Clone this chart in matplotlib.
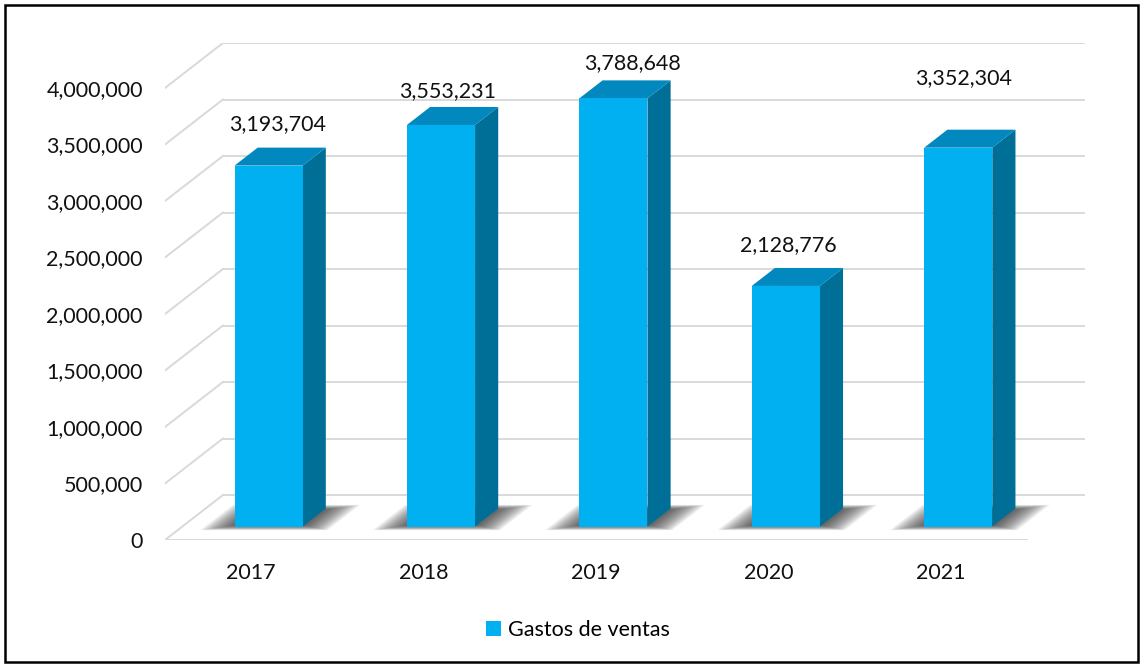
import matplotlib.pyplot as plt
from matplotlib.patches import Polygon, Rectangle, Patch
from matplotlib.ticker import FuncFormatter

# datos
years = ['2017', '2018', '2019', '2020', '2021']
gastos = [3193704, 3553231, 3788648, 2128776, 3352304]
y_ticks = [0, 500000, 1000000, 1500000, 2000000, 2500000, 3000000, 3500000, 4000000]
serie = 'Gastos de ventas'

plt.rcParams['font.family'] = ['Lato', 'DejaVu Sans']

# geometría del efecto 3D (profundidad en unidades de datos)
DX, DY = 0.336, 398000
W = 0.395            # ancho de la barra
Z0, Z1 = 0.3, 0.7    # posición de la barra en la profundidad

front_c = '#00B0F0'
side_c = '#006F98'
top_c = '#0088BF'
grid_c = '#d9d9d9'
font_size = 15.5

# ajuste manual de las etiquetas de valor (pixeles)
label_shift = [(-3, 33), (-5, 25), (7, 26), (-9, 32), (-6, 61)]


def proj(x, z, y=0):
    # x en categorías, z fracción de profundidad, y en valor
    return (x + z * DX, y + z * DY)


fig = plt.figure(figsize=(11.41, 6.66), dpi=100)
ax = fig.add_axes([165 / 1141, 126 / 666, 920 / 1141, 497 / 666])
ax.set_xlim(-0.5, len(years) - 0.5 + DX)
ax.set_ylim(0, y_ticks[-1] + DY)
for s in ax.spines.values():
    s.set_visible(False)

# pared del fondo, pared lateral y borde del piso
x_left, x_right = -0.5, len(years) - 0.5
for t in y_ticks:
    ax.plot([x_left + DX, x_right + DX], [t + DY, t + DY], color=grid_c, lw=1.4, zorder=1)
    ax.plot([x_left, x_left + DX], [t, t + DY], color=grid_c, lw=1.4, zorder=1)
ax.plot([x_left, x_right], [0, 0], color=grid_c, lw=1.4, zorder=1)

# sombras (capas superpuestas para difuminar) y barras
n_layers = 12
for i, v in enumerate(gastos):
    c = i
    for k in range(n_layers):
        f = 1 - k / n_layers
        gx = 0.17 * f
        gz = 0.11 * f - 0.03
        pts = [proj(c - W / 2 - gx, Z0 - gz), proj(c + W / 2 + gx, Z0 - gz),
               proj(c + W / 2 + gx, Z1 + gz), proj(c - W / 2 - gx, Z1 + gz)]
        ax.add_patch(Polygon(pts, closed=True, facecolor='#262626', edgecolor='none',
                             alpha=0.09, zorder=2))

    front = [proj(c - W / 2, Z0), proj(c + W / 2, Z0),
             proj(c + W / 2, Z0, v), proj(c - W / 2, Z0, v)]
    side = [proj(c + W / 2, Z0), proj(c + W / 2, Z1),
            proj(c + W / 2, Z1, v), proj(c + W / 2, Z0, v)]
    top = [proj(c - W / 2, Z0, v), proj(c + W / 2, Z0, v),
           proj(c + W / 2, Z1, v), proj(c - W / 2, Z1, v)]
    ax.add_patch(Polygon(side, closed=True, facecolor=side_c, edgecolor='none', zorder=3))
    ax.add_patch(Polygon(top, closed=True, facecolor=top_c, edgecolor='none', zorder=3))
    ax.add_patch(Polygon(front, closed=True, facecolor=front_c, edgecolor='none', zorder=4))

    dx, dy = label_shift[i]
    ax.annotate(f'{v:,}', xy=proj(c, 0.5, v), xytext=(dx, dy), textcoords='offset pixels',
                ha='center', va='center', fontsize=font_size, color='#111111', zorder=5)

# ejes
ax.set_yticks(y_ticks)
ax.yaxis.set_major_formatter(FuncFormatter(lambda v, p: f'{v:,.0f}'))
ax.set_xticks(range(len(years)))
ax.set_xticklabels(years)
ax.tick_params(axis='both', length=0, labelsize=font_size, colors='#111111')
ax.tick_params(axis='y', pad=16)
ax.tick_params(axis='x', pad=16.5)

fig.legend(handles=[Patch(facecolor=front_c, label=serie)], loc='center',
           bbox_to_anchor=(578 / 1141, 1 - 630 / 666), frameon=False,
           handlelength=0.7, handleheight=0.7, handletextpad=0.3, fontsize=font_size)

# marco exterior
fig.patches.append(Rectangle((5 / 1141, 4 / 666), 1133 / 1141, 657 / 666,
                             transform=fig.transFigure, fill=False,
                             edgecolor='black', lw=1.8))

fig.savefig('out.png', dpi=100, facecolor='white')
